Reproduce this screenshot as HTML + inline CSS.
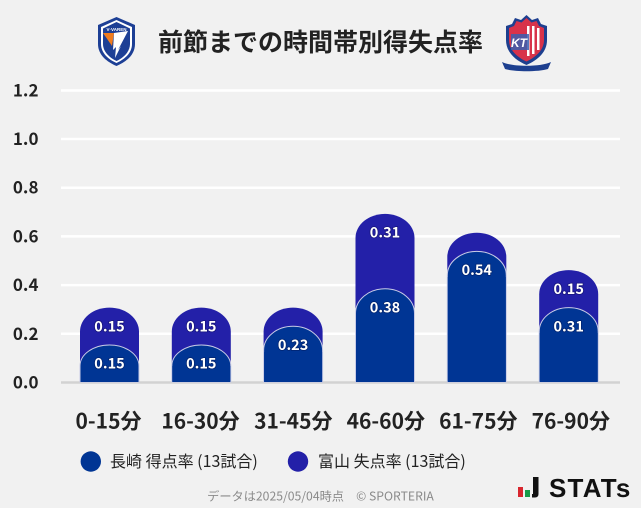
<!DOCTYPE html>
<html><head><meta charset="utf-8">
<style>
html,body{margin:0;padding:0;background:#f1f1f1;}
svg{display:block;}
text{font-family:"Liberation Sans","Noto Sans CJK JP",sans-serif;}
.jp{font-family:"Noto Sans CJK JP","Liberation Sans",sans-serif;}
</style></head>
<body>
<svg width="641" height="508" viewBox="0 0 641 508" xmlns="http://www.w3.org/2000/svg">
<rect width="641" height="508" fill="#f1f1f1"/>

<!-- left logo -->
<g>
<path d="M116.5 17 L135 25 L135 44 C135 55 126 62 116.5 66 C107 62 98 55 98 44 L98 25 Z" fill="#1d3f95"/>
<path d="M116.5 20 L132 27 L132 44 C132 53 124.5 59.5 116.5 63 C108.5 59.5 101 53 101 44 L101 27 Z" fill="#ffffff"/>
<path d="M116.5 22 L130 28.5 L130 44 C130 52 123 58 116.5 61 C110 58 103 52 103 44 L103 28.5 Z" fill="#1d3f95"/>
<path d="M103 33 L114 33 L112 46 Z" fill="#f07c1e"/>
<path d="M114 33 L128 31 L118 50 L121 46 L115 58 L116 47 L113 50 Z" fill="#ffffff"/>
<text x="116.5" y="31" font-size="4.5" fill="#fff" text-anchor="middle" font-weight="bold">V·VAREN</text>
</g>

<!-- title -->
<text class="jp" x="320.5" y="51" font-size="25" font-weight="bold" fill="#222" text-anchor="middle">前節までの時間帯別得失点率</text>

<!-- right logo -->
<g>
<path d="M526.5 15 L532 20 L538 18 L541 24 L547 26 L547 40 C547 52 538 60 526.5 65 C515 60 506 52 506 40 L506 26 L512 24 L515 18 L521 20 Z" fill="#1d3f8f"/>
<path d="M526.5 18 L531.5 22.5 L536.5 21 L539 26 L544 28 L544 40 C544 50 536 57 526.5 61.5 C517 57 509 50 509 40 L509 28 L514 26 L516.5 21 L521.5 22.5 Z" fill="#d8324a"/>
<rect x="527" y="26" width="2.5" height="30" fill="#fff"/>
<rect x="532" y="26" width="2.5" height="28" fill="#fff"/>
<rect x="537" y="28" width="2.5" height="22" fill="#fff"/>
<rect x="511" y="34" width="18" height="16" fill="#3a5fb0" opacity="0.85"/>
<text x="519" y="47" font-size="12" fill="#fff" font-weight="bold" font-style="italic" text-anchor="middle">KT</text>
<path d="M502 62 C512 67 541 67 551 62 L548 69 C538 72 515 72 505 69 Z" fill="#1d3f8f"/>
</g>

<!-- grid -->
<g stroke="#ffffff" stroke-width="2.5">
<line x1="61" y1="90.5" x2="620" y2="90.5"/>
<line x1="61" y1="139" x2="620" y2="139"/>
<line x1="61" y1="187.7" x2="620" y2="187.7"/>
<line x1="61" y1="236.4" x2="620" y2="236.4"/>
<line x1="61" y1="285.1" x2="620" y2="285.1"/>
<line x1="61" y1="333.8" x2="620" y2="333.8"/>
</g>
<line x1="61" y1="382.5" x2="620" y2="382.5" stroke="#d2d2d2" stroke-width="2.5"/>

<!-- y labels -->
<g class="jp" font-size="17" font-weight="bold" fill="#222" text-anchor="end">
<text class="jp" x="38.5" y="96.5">1.2</text>
<text class="jp" x="38.5" y="145">1.0</text>
<text class="jp" x="38.5" y="193.7">0.8</text>
<text class="jp" x="38.5" y="242.4">0.6</text>
<text class="jp" x="38.5" y="291.1">0.4</text>
<text class="jp" x="38.5" y="339.8">0.2</text>
<text class="jp" x="38.5" y="388.5">0.0</text>
</g>

<!-- bars -->
<g>
<path d="M80 382 L80 331.6 A29.5 24 0 0 1 139 331.6 L139 382 Z" fill="#2320a8"/>
<path d="M80 382 L80 366 A29.5 21 0 0 1 139 366 L139 382 Z" fill="#003594" stroke="#c9cbe6" stroke-width="1"/>
<rect x="80.5" y="366" width="58" height="16" fill="#003594"/>

<path d="M171.8 382 L171.8 331.6 A29.5 24 0 0 1 230.8 331.6 L230.8 382 Z" fill="#2320a8"/>
<path d="M171.8 382 L171.8 366 A29.5 21 0 0 1 230.8 366 L230.8 382 Z" fill="#003594" stroke="#c9cbe6" stroke-width="1"/>
<rect x="172.3" y="366" width="58" height="16" fill="#003594"/>

<path d="M263.6 382 L263.6 331.6 A29.5 24 0 0 1 322.6 331.6 L322.6 382 Z" fill="#2320a8"/>
<path d="M263.6 382 L263.6 350.3 A29.5 24 0 0 1 322.6 350.3 L322.6 382 Z" fill="#003594" stroke="#c9cbe6" stroke-width="1"/>
<rect x="264.1" y="352" width="58" height="30" fill="#003594"/>

<path d="M355.5 382 L355.5 237.9 A29.5 24 0 0 1 414.5 237.9 L414.5 382 Z" fill="#2320a8"/>
<path d="M355.5 382 L355.5 313.3 A29.5 24.5 0 0 1 414.5 313.3 L414.5 382 Z" fill="#003594" stroke="#c9cbe6" stroke-width="1"/>
<rect x="356" y="315" width="58" height="67" fill="#003594"/>

<path d="M447.3 382 L447.3 256.7 A29.5 24 0 0 1 506.3 256.7 L506.3 382 Z" fill="#2320a8"/>
<path d="M447.3 382 L447.3 275.4 A29.5 24 0 0 1 506.3 275.4 L506.3 382 Z" fill="#003594" stroke="#c9cbe6" stroke-width="1"/>
<rect x="447.8" y="277" width="58" height="105" fill="#003594"/>

<path d="M539.2 382 L539.2 294.1 A29.5 24 0 0 1 598.2 294.1 L598.2 382 Z" fill="#2320a8"/>
<path d="M539.2 382 L539.2 331.6 A29.5 24 0 0 1 598.2 331.6 L598.2 382 Z" fill="#003594" stroke="#c9cbe6" stroke-width="1"/>
<rect x="539.7" y="333" width="58" height="49" fill="#003594"/>
</g>

<!-- bar labels -->
<g font-size="14.5" font-weight="bold" fill="#ffffff" text-anchor="middle" style="paint-order:stroke" stroke="rgba(0,0,40,0.35)" stroke-width="1.5">
<text class="jp" x="109.5" y="331.5">0.15</text>
<text class="jp" x="109.5" y="368.5">0.15</text>
<text class="jp" x="201.3" y="331.5">0.15</text>
<text class="jp" x="201.3" y="368.5">0.15</text>
<text class="jp" x="293.1" y="350">0.23</text>
<text class="jp" x="385" y="237.5">0.31</text>
<text class="jp" x="385" y="312.5">0.38</text>
<text class="jp" x="476.8" y="275">0.54</text>
<text class="jp" x="568.7" y="294">0.15</text>
<text class="jp" x="568.7" y="331.5">0.31</text>
</g>

<!-- x labels -->
<g font-size="21" font-weight="bold" fill="#222" text-anchor="middle">
<text class="jp" x="108.5" y="428.5">0-15分</text>
<text class="jp" x="200.5" y="428.5">16-30分</text>
<text class="jp" x="293.3" y="428.5">31-45分</text>
<text class="jp" x="385.8" y="428.5">46-60分</text>
<text class="jp" x="478.3" y="428.5">61-75分</text>
<text class="jp" x="570.8" y="428.5">76-90分</text>
</g>

<!-- legend -->
<circle cx="90.8" cy="461.5" r="10.2" fill="#003594"/>
<text class="jp" x="110" y="467" font-size="16" fill="#222">長崎 得点率 (13試合)</text>
<circle cx="298" cy="461.5" r="10.2" fill="#2320a8"/>
<text class="jp" x="318" y="467" font-size="16" fill="#222">富山 失点率 (13試合)</text>

<!-- footer -->
<text class="jp" x="320.5" y="500.5" font-size="12.2" fill="#8a8a8a" text-anchor="middle">データは2025/05/04時点　© SPORTERIA</text>

<!-- STATS logo -->
<rect x="518" y="487" width="5" height="10" fill="#d8262e"/>
<rect x="525" y="490" width="5" height="7" fill="#1a9a48"/>
<path d="M533 477 L538.5 477 L538.5 494 Q538.5 497.5 535 497.5 L532 497.5 L532 494 L533 494 Z" fill="#111"/>
<text x="549" y="497" font-size="26" font-weight="bold" fill="#111" letter-spacing="1.2" font-family="Liberation Sans, sans-serif">STATs</text>
</svg>
</body></html>
